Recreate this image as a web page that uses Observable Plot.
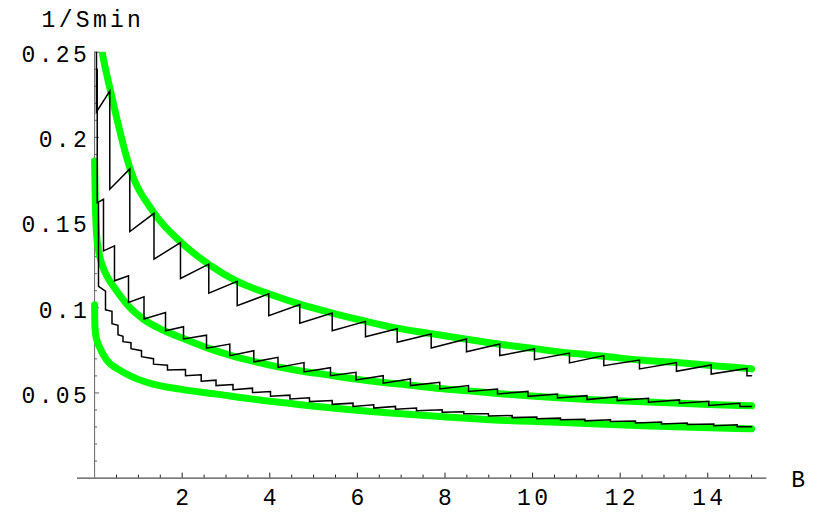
<!DOCTYPE html>
<html>
<head>
<meta charset="utf-8">
<script src="https://cdn.jsdelivr.net/npm/d3@7"></script>
<script src="https://cdn.jsdelivr.net/npm/@observablehq/plot@0.6"></script>
<style>
html, body { margin: 0; padding: 0; background: #ffffff; }
#chart svg { display: block; }
</style>
</head>
<body>
<div id="chart"></div>
<script>
// ---- axis text / ticks ----
const xLabel = "B";
const yLabel = "1/Smin";
const xMajorTicks = [2, 4, 6, 8, 10, 12, 14];
const xTickLabels = ["2", "4", "6", "8", "10", "12", "14"];
const xMinorTicks = [0.5, 1, 1.5, 2.5, 3, 3.5, 4.5, 5, 5.5, 6.5, 7, 7.5, 8.5, 9, 9.5, 10.5, 11, 11.5, 12.5, 13, 13.5, 14.5, 15];
const yMajorTicks = [0.05, 0.1, 0.15, 0.2, 0.25];
const yTickLabels = ["0.05", "0.1", "0.15", "0.2", "0.25"];
const yMinorTicks = [0.01, 0.02, 0.03, 0.04, 0.06, 0.07, 0.08, 0.09, 0.11, 0.12, 0.13, 0.14, 0.16, 0.17, 0.18, 0.19, 0.21, 0.22, 0.23, 0.24];
const bEnd = 15;

// ---- black sawtooth curves: drop positions (B), value before drop, value after drop ----
const topDropB = [0.043, 0.347, 0.804, 1.356, 1.961, 2.607, 3.256, 3.977, 4.685, 5.425, 6.185, 6.909, 7.685, 8.491, 9.251, 10.043, 10.842, 11.626, 12.441, 13.285, 14.078, 14.895];
const topHigh  = [0.32, 0.2272, 0.1815, 0.1554, 0.1383, 0.1256, 0.1155, 0.1082, 0.1019, 0.0969, 0.0920, 0.0877, 0.0846, 0.0817, 0.0787, 0.0758, 0.0734, 0.0719, 0.0693, 0.0678, 0.0664, 0.0644];
const topLow   = [0.2149, 0.1696, 0.1447, 0.1285, 0.1172, 0.1086, 0.1012, 0.0953, 0.0909, 0.0865, 0.0830, 0.0797, 0.0764, 0.0742, 0.0719, 0.0695, 0.0676, 0.0660, 0.0641, 0.0627, 0.0611, 0.0601];

const midDropB = [0.06, 0.203, 0.454, 0.774, 1.128, 1.619, 2.030, 2.555, 3.087, 3.635, 4.187, 4.781, 5.386, 5.968, 6.589, 7.212, 7.881, 8.537, 9.199, 9.895, 10.568, 11.242, 11.932, 12.646, 13.354, 14.023, 14.731];
const midHigh  = [0.24, 0.1637, 0.1363, 0.1188, 0.1064, 0.0972, 0.0889, 0.0839, 0.0787, 0.0748, 0.0709, 0.0678, 0.0648, 0.0621, 0.0601, 0.0582, 0.0562, 0.0543, 0.0523, 0.0509, 0.0493, 0.0484, 0.0478, 0.0468, 0.0459, 0.0451, 0.0439];
const midLow   = [0.1617, 0.1334, 0.1158, 0.1031, 0.0934, 0.0865, 0.0817, 0.0763, 0.0719, 0.0682, 0.0650, 0.0623, 0.0601, 0.0576, 0.0557, 0.0543, 0.0523, 0.0509, 0.0494, 0.0480, 0.0470, 0.0461, 0.0455, 0.0445, 0.0439, 0.0426, 0.0420];

const botDropB = [0.089, 0.249, 0.397, 0.534, 0.648, 0.831, 1.071, 1.345, 1.664, 2.075, 2.434, 2.772, 3.160, 3.605, 4.016, 4.461, 4.906, 5.425, 5.900, 6.374, 6.870, 7.349, 7.936, 8.429, 8.993, 9.534, 10.096, 10.637, 11.196, 11.778, 12.349, 12.943, 13.530, 14.137, 14.671];
const botHigh  = [0.1617, 0.1097, 0.0979, 0.0897, 0.0833, 0.0795, 0.0748, 0.0701, 0.0663, 0.0637, 0.0607, 0.0575, 0.0549, 0.0528, 0.0508, 0.0487, 0.0472, 0.0455, 0.0440, 0.0430, 0.0421, 0.0411, 0.0401, 0.0390, 0.0377, 0.0367, 0.0358, 0.0352, 0.0346, 0.0342, 0.0335, 0.0329, 0.0323, 0.0317, 0.0313];
const botLow   = [0.1125, 0.0988, 0.0906, 0.0842, 0.0801, 0.0760, 0.0713, 0.0669, 0.0634, 0.0601, 0.0569, 0.0543, 0.0519, 0.0502, 0.0481, 0.0464, 0.0449, 0.0433, 0.0420, 0.0411, 0.0404, 0.0396, 0.0386, 0.0377, 0.0365, 0.0355, 0.0348, 0.0342, 0.0336, 0.0332, 0.0324, 0.0318, 0.0314, 0.0307, 0.0302];

// ---- green smooth curves ----
const greenTopB = [0.1, 0.176, 0.366, 0.804, 1.356, 1.961, 2.607, 3.256, 3.977, 4.685, 5.425, 6.185, 6.909, 7.685, 8.491, 9.251, 10.043, 10.842, 11.626, 12.441, 13.285, 14.078, 14.895, 15];
const greenTopV = [0.262, 0.2497, 0.2269, 0.1821, 0.1557, 0.1387, 0.1255, 0.1155, 0.1082, 0.1021, 0.0969, 0.0921, 0.0880, 0.0848, 0.0815, 0.0786, 0.0760, 0.0734, 0.0715, 0.0693, 0.0678, 0.0661, 0.0644, 0.0641];

const greenMidB = [0, 0.016, 0.043, 0.10, 0.18, 0.295, 0.454, 0.774, 1.128, 1.619, 2.030, 2.555, 3.087, 3.635, 4.187, 4.781, 5.386, 5.968, 6.589, 7.212, 7.881, 8.537, 9.199, 9.895, 10.568, 11.242, 11.932, 12.646, 13.354, 14.023, 14.731, 15];
const greenMidV = [0.1861, 0.1627, 0.1440, 0.1322, 0.1246, 0.1179, 0.1117, 0.1010, 0.0930, 0.0862, 0.0819, 0.0766, 0.0722, 0.0685, 0.0653, 0.0626, 0.0604, 0.0581, 0.0561, 0.0545, 0.0526, 0.0512, 0.0497, 0.0483, 0.0471, 0.0462, 0.0454, 0.0446, 0.0439, 0.0432, 0.0426, 0.0424];

const greenBotB = [0, 0.007, 0.032, 0.119, 0.272, 0.575, 0.957, 1.338, 1.945, 2.783, 3.559, 4.701, 6.756, 8.126, 9.039, 10.409, 11.094, 12.692, 13.833, 15];
const greenBotV = [0.1018, 0.0894, 0.0830, 0.0766, 0.0695, 0.0634, 0.0584, 0.0552, 0.0522, 0.0493, 0.0465, 0.0431, 0.0382, 0.0357, 0.0343, 0.0329, 0.0322, 0.0306, 0.0297, 0.0289];

// ---- build tables ----
function sawtooth(D, H, L) {
  const pts = [];
  D.forEach((b, i) => { pts.push({B: b, v: H[i]}); pts.push({B: b, v: L[i]}); });
  pts.push({B: bEnd, v: L[L.length - 1]});
  return pts;
}
const zipCurve = (Bs, Vs) => Bs.map((b, i) => ({B: b, v: Vs[i]}));

const topSaw = sawtooth(topDropB, topHigh, topLow);
const midSaw = sawtooth(midDropB, midHigh, midLow);
const botSaw = sawtooth(botDropB, botHigh, botLow);
const greenTop = zipCurve(greenTopB, greenTopV);
const greenMid = zipCurve(greenMidB, greenMidV);
const greenBot = zipCurve(greenBotB, greenBotV);

const FONT = "'Liberation Mono', 'Courier New', monospace";
const FS = 23;
const GREEN = "#00ff00";
const greenStyle = {x: "B", y: "v", stroke: GREEN, strokeWidth: 7, curve: "monotone-x", strokeLinecap: "round"};
const blackStyle = {x: "B", y: "v", stroke: "#000", strokeWidth: 1.5, strokeLinejoin: "miter", strokeMiterlimit: 4};

const chart = Plot.plot({
  width: 830,
  height: 513,
  marginLeft: 94.1,
  marginRight: 63.6,
  marginTop: 51.7,
  marginBottom: 35.4,
  style: "background: #ffffff; letter-spacing: 3.3px;",
  x: {domain: [0, 15.35], axis: null},
  y: {domain: [0, 0.25], axis: null},
  marks: [
    // axes
    Plot.ruleY([0], {x1: -0.39, x2: 15.35, stroke: "#222", strokeWidth: 1}),
    Plot.ruleX([0], {y1: 0, y2: 0.25, stroke: "#666", strokeWidth: 1}),
    // x ticks (inward)
    Plot.ruleX(xMajorTicks, {x: d => d, y1: 0, y2: 0, insetTop: -5, stroke: "#222"}),
    Plot.ruleX(xMinorTicks, {x: d => d, y1: 0, y2: 0, insetTop: -3, stroke: "#222"}),
    // y ticks (inward)
    Plot.ruleY(yMajorTicks, {y: d => d, x1: 0, x2: 0, insetRight: -5, stroke: "#666"}),
    Plot.ruleY(yMinorTicks, {y: d => d, x1: 0, x2: 0, insetRight: -3, stroke: "#666"}),
    // green curves
    Plot.line(greenTop, {...greenStyle, clip: true}),
    Plot.line(greenMid, greenStyle),
    Plot.line(greenBot, greenStyle),
    // black sawtooth curves
    Plot.line(topSaw, {...blackStyle, clip: true}),
    Plot.line(midSaw, {...blackStyle, clip: true}),
    Plot.line(botSaw, {...blackStyle, clip: true}),
    // tick labels
    Plot.text(yMajorTicks, {x: 0, y: d => d, text: (d, i) => yTickLabels[i], textAnchor: "end", dx: -4.6, dy: 2.5, fontSize: FS, fontFamily: FONT, fill: "#000"}),
    Plot.text(xMajorTicks, {x: d => d, y: 0, text: (d, i) => xTickLabels[i], lineAnchor: "bottom", dx: 1.6, dy: 26.4, fontSize: FS, fontFamily: FONT, fill: "#000"}),
    // axis labels
    Plot.text([xLabel], {x: 15.35, y: 0, text: d => d, textAnchor: "start", lineAnchor: "bottom", dx: 24.3, dy: 9.1, fontSize: FS, fontFamily: FONT, fill: "#000"}),
    Plot.text([yLabel], {x: 0, y: 0.25, text: d => d, textAnchor: "start", lineAnchor: "bottom", dx: -53, dy: -25, fontSize: FS, fontFamily: FONT, fill: "#000"})
  ]
});
document.getElementById("chart").appendChild(chart);
</script>
</body>
</html>
